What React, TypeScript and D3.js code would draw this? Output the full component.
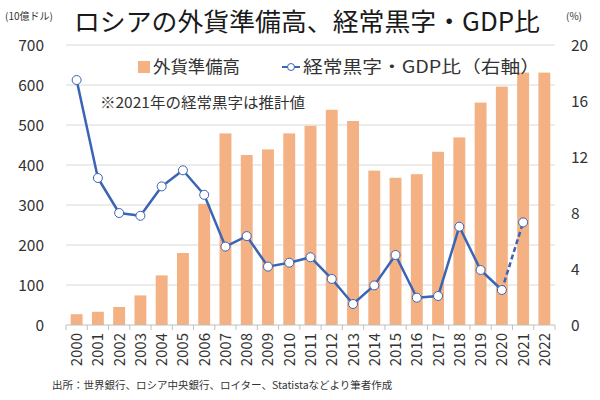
import React from "react";
import * as d3 from "d3";

const years = ["2000","2001","2002","2003","2004","2005","2006","2007","2008","2009","2010","2011","2012","2013","2014","2015","2016","2017","2018","2019","2020","2021","2022"];
const reserves = [27, 33, 45, 74, 124, 180, 303, 479, 425, 439, 479, 498, 538, 510, 386, 368, 377, 433, 469, 556, 596, 631, 631];
const currentAccount = [17.5, 10.5, 8.0, 7.8, 9.9, 11.05, 9.3, 5.6, 6.35, 4.17, 4.45, 4.84, 3.29, 1.5, 2.83, 5.0, 1.95, 2.07, 7.02, 3.93, 2.5, 7.33];
const leftTicks = [0, 100, 200, 300, 400, 500, 600, 700];
const rightTicks = [0, 4, 8, 12, 16, 20];

const FONT = "'Noto Sans CJK JP', 'Noto Sans', sans-serif";
const BAR = "#f4b183";
const LINE = "#3a64b5";

export default function App() {
  const W = 600, H = 400;
  const left = 66, right = 555, top = 45, bottom = 325;
  const x = d3.scaleBand<string>().domain(years).range([left, right]).paddingInner(0.44).paddingOuter(0.22);
  const yL = d3.scaleLinear().domain([0, 700]).range([bottom, top]);
  const yR = d3.scaleLinear().domain([0, 20]).range([bottom, top]);
  const cx = (i: number) => (x(years[i]) as number) + x.bandwidth() / 2;
  const step = (right - left) / years.length;

  const solid = d3.line<number>().x((_, i) => cx(i)).y(d => yR(d))(currentAccount.slice(0, 21)) as string;
  const dashed = d3.line<number>().x((_, i) => cx(i + 20)).y(d => yR(d))(currentAccount.slice(20, 22)) as string;

  return (
    <svg width={W} height={H} style={{ position: "absolute", left: 0, top: 0, background: "#fff" }} fontFamily={FONT}>
      <rect x={0} y={0} width={W} height={H} fill="#fff" />
      {/* title */}
      <text x={74} y={31} fontSize={25.5} fill="#1a1a1a" textLength={466} lengthAdjust="spacingAndGlyphs">ロシアの外貨準備高、経常黒字・GDP比</text>
      <text x={5} y={20} fontSize={10} fill="#333">(10億ドル)</text>
      <text x={566} y={20} fontSize={10} fill="#333">(%)</text>
      {/* gridlines */}
      {leftTicks.filter(t => t > 0).map(t => (
        <line key={t} x1={left} x2={right} y1={yL(t)} y2={yL(t)} stroke="#d9d9d9" strokeWidth={1} />
      ))}
      {/* left ticks */}
      {leftTicks.map(t => (
        <text key={t} x={44} y={yL(t) + 5.5} fontSize={15.5} textAnchor="end" fill="#333">{t}</text>
      ))}
      {rightTicks.map(t => (
        <text key={t} x={571} y={yR(t) + 5.5} fontSize={15.5} textAnchor="start" fill="#333">{t}</text>
      ))}
      {/* bars */}
      {reserves.map((v, i) => (
        <rect key={i} x={x(years[i])} y={yL(v)} width={x.bandwidth()} height={bottom - yL(v)} fill={BAR} />
      ))}
      {/* x axis */}
      <line x1={left} x2={right} y1={bottom} y2={bottom} stroke="#bfbfbf" strokeWidth={1} />
      {d3.range(years.length + 1).map(i => (
        <line key={i} x1={left + i * step} x2={left + i * step} y1={bottom} y2={bottom + 5} stroke="#bfbfbf" strokeWidth={1} />
      ))}
      {years.map((yr, i) => (
        <text key={yr} transform={`translate(${cx(i) + 5.5},${333}) rotate(-90)`} fontSize={15} textAnchor="end" fill="#333">{yr}</text>
      ))}
      {/* line */}
      <path d={solid} fill="none" stroke={LINE} strokeWidth={2.5} strokeLinejoin="round" />
      <path d={dashed} fill="none" stroke={LINE} strokeWidth={2.5} strokeDasharray="5,3" />
      {currentAccount.map((v, i) => (
        <circle key={i} cx={cx(i)} cy={yR(v)} r={4.5} fill="#fff" stroke={LINE} strokeWidth={1} />
      ))}
      {/* legend */}
      <rect x={138} y={61} width={12} height={12} fill={BAR} />
      <text x={153} y={73} fontSize={17} fill="#333" textLength={87} lengthAdjust="spacingAndGlyphs">外貨準備高</text>
      <line x1={282} x2={300} y1={67} y2={67} stroke={LINE} strokeWidth={2} />
      <circle cx={291} cy={67} r={3.5} fill="#fff" stroke={LINE} strokeWidth={1} />
      <text x={303} y={73} fontSize={17} fill="#333" textLength={237} lengthAdjust="spacingAndGlyphs">経常黒字・GDP比（右軸）</text>
      {/* note */}
      <text x={100} y={108} fontSize={15} fill="#333" textLength={205} lengthAdjust="spacingAndGlyphs">※2021年の経常黒字は推計値</text>
      {/* source */}
      <text x={52} y={389} fontSize={10.5} fill="#333">出所：世界銀行、ロシア中央銀行、ロイター、Statistaなどより筆者作成</text>
    </svg>
  );
}
